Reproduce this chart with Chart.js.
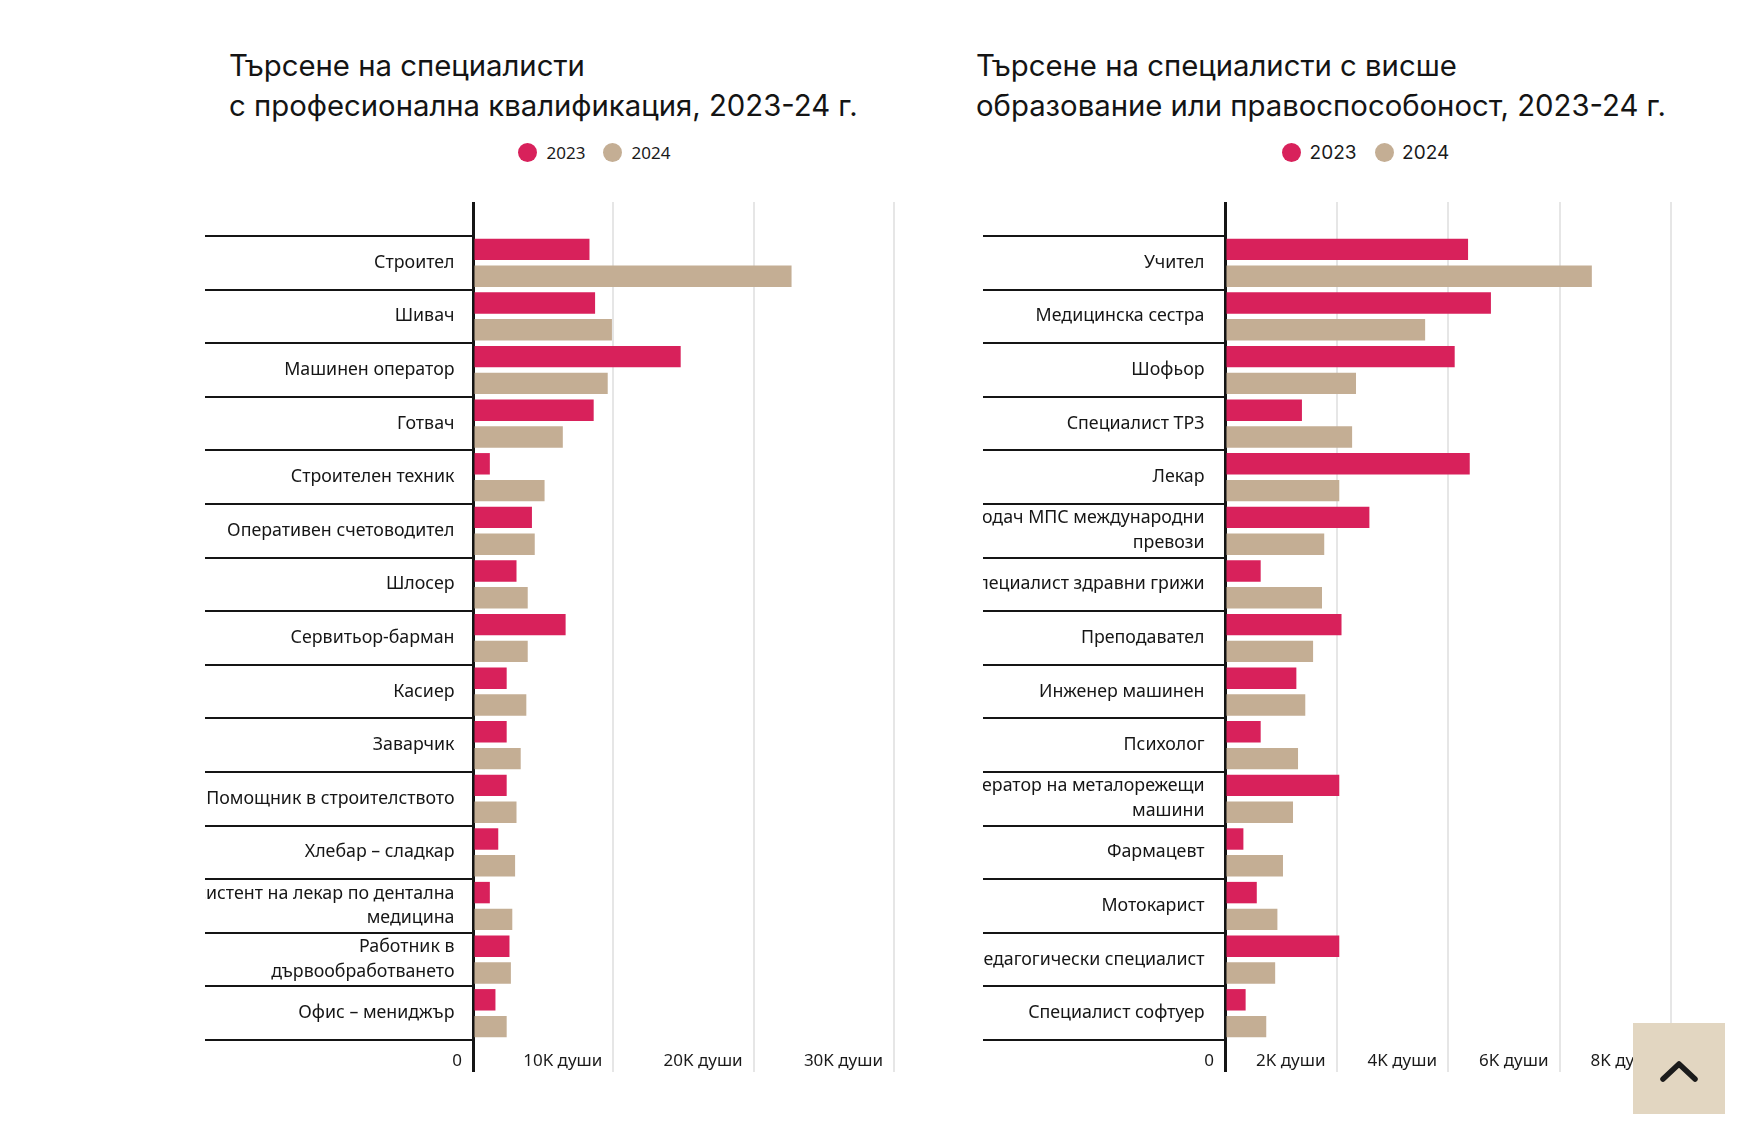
<!DOCTYPE html>
<html>
<head>
<meta charset="utf-8">
<script src="https://cdn.jsdelivr.net/npm/chart.js@4.4.1/dist/chart.umd.min.js"></script>
<style>
  html, body { margin: 0; padding: 0; background: #ffffff; width: 1760px; height: 1121px; overflow: hidden; }
  .title { position: absolute; font-family: Inter, "Noto Sans", sans-serif; font-size: 29.3px; line-height: 40px; color: #141414; white-space: nowrap; letter-spacing: 0; }
  .legend { position: absolute; display: flex; align-items: center; height: 19px; color: #1a1a1a; white-space: nowrap; }
  .legend .dot { width: 19px; height: 19px; border-radius: 50%; display: inline-block; }
  .chartbox { position: absolute; }
  #totop { position: absolute; left: 1633px; top: 1023px; width: 92px; height: 91px; background: #e2d6c1; }
</style>
</head>
<body>
<div class="title" style="left:229px; top:46px;">Търсене на специалисти<br>с професионална квалификация, 2023-24 г.</div>
<div class="title" style="left:976px; top:46px;">Търсене на специалисти с висше<br>образование или правоспособоност, 2023-24 г.</div>

<div class="legend" id="legLeft" style="left:518px; top:143px; font-family:'Noto Sans', sans-serif; font-size:17px;"></div>
<div class="legend" id="legRight" style="left:1282px; top:143px; font-family:Inter, sans-serif; font-size:19px;"></div>

<div class="chartbox" style="left:205px; top:202px;"><canvas id="c1" width="691" height="874"></canvas></div>
<div class="chartbox" style="left:983px; top:202px;"><canvas id="c2" width="690" height="874"></canvas></div>

<div id="totop">
  <svg width="92" height="91" viewBox="0 0 92 91">
    <polyline points="30,56 46,41 62,56" fill="none" stroke="#1b1b1b" stroke-width="5.5" stroke-linecap="round" stroke-linejoin="round"/>
  </svg>
</div>

<script>
// ---------- data ----------
const seriesNames = ['2023', '2024'];
const seriesColors = ['#d8215b', '#c4ae94'];

const leftCategories = [
  'Строител',
  'Шивач',
  'Машинен оператор',
  'Готвач',
  'Строителен техник',
  'Оперативен счетоводител',
  'Шлосер',
  'Сервитьор-барман',
  'Касиер',
  'Заварчик',
  'Помощник в строителството',
  'Хлебар – сладкар',
  ['Асистент на лекар по дентална', 'медицина'],
  ['Работник в', 'дървообработването'],
  'Офис – мениджър'
];
const left2023 = [8300, 8700, 14800, 8600, 1200, 4200, 3100, 6600, 2400, 2400, 2400, 1800, 1200, 2600, 1600];
const left2024 = [22700, 9900, 9600, 6400, 5100, 4400, 3900, 3900, 3800, 3400, 3100, 3000, 2800, 2700, 2400];
const leftTickLabels = ['0', '10K души', '20K души', '30K души'];

const rightCategories = [
  'Учител',
  'Медицинска сестра',
  'Шофьор',
  'Специалист ТРЗ',
  'Лекар',
  ['Водач МПС международни', 'превози'],
  'Специалист здравни грижи',
  'Преподавател',
  'Инженер машинен',
  'Психолог',
  ['Оператор на металорежещи', 'машини'],
  'Фармацевт',
  'Мотокарист',
  'Педагогически специалист',
  'Специалист софтуер'
];
const right2023 = [4360, 4770, 4120, 1380, 4390, 2590, 640, 2090, 1280, 640, 2050, 330, 570, 2050, 370];
const right2024 = [6580, 3590, 2350, 2280, 2050, 1780, 1740, 1580, 1440, 1310, 1220, 1040, 940, 900, 740];
const rightTickLabels = ['0', '2K души', '4K души', '6K души', '8K души'];

// ---------- legends ----------
function buildLegend(id, gapDot, gapItem) {
  const el = document.getElementById(id);
  seriesNames.forEach((name, i) => {
    const d = document.createElement('span');
    d.className = 'dot';
    d.style.background = seriesColors[i];
    d.style.marginRight = gapDot + 'px';
    const t = document.createElement('span');
    t.textContent = name;
    if (i < seriesNames.length - 1) t.style.marginRight = gapItem + 'px';
    el.appendChild(d); el.appendChild(t);
  });
}
buildLegend('legLeft', 9.6, 17.4);
buildLegend('legRight', 8.6, 18);

// ---------- charts ----------
const INK = '#151515';
const GRID = '#e6e6e6';
const tickFont = { family: '"Noto Sans", sans-serif', size: 17 };
const catFont = { family: '"Noto Sans", sans-serif', size: 17.8, lineHeight: 1.39 };

function gridColor(c) { return (c.tick && c.tick.value === 0) ? INK : GRID; }
function gridWidth(c) { return (c.tick && c.tick.value === 0) ? 3 : 2; }

function makeChart(canvasId, categories, d23, d24, max, step, tickLabels, yWidth, labelGap) {
  return new Chart(document.getElementById(canvasId), {
    type: 'bar',
    data: {
      labels: categories,
      datasets: [
        { label: seriesNames[0], data: d23, backgroundColor: seriesColors[0], categoryPercentage: 1, barPercentage: 0.8 },
        { label: seriesNames[1], data: d24, backgroundColor: seriesColors[1], categoryPercentage: 1, barPercentage: 0.8 }
      ]
    },
    options: {
      indexAxis: 'y',
      responsive: false,
      animation: false,
      devicePixelRatio: 1,
      layout: { padding: { left: 0, right: 2, top: 0, bottom: 0 } },
      plugins: { legend: { display: false }, tooltip: { enabled: false } },
      scales: {
        y: {
          type: 'category',
          z: 1,
          grid: { drawOnChartArea: false, drawTicks: true, tickLength: yWidth, color: INK, lineWidth: 2, offset: true },
          border: { display: true, color: INK, width: 3 },
          ticks: { autoSkip: false, padding: -(yWidth - labelGap), color: '#161616', font: catFont },
          afterFit: (s) => { s.width = yWidth; }
        },
        x: {
          type: 'linear',
          position: 'bottom',
          min: 0, max: max,
          grid: { color: gridColor, lineWidth: gridWidth, tickLength: 32, drawTicks: true },
          border: { display: false },
          ticks: {
            stepSize: step, align: 'end', labelOffset: -11, padding: -21,
            color: '#1a1a1a', font: tickFont,
            callback: (v, i) => tickLabels[i]
          },
          afterFit: (s) => { s.height = 36; }
        },
        xTop: {
          type: 'linear',
          position: 'top',
          min: 0, max: max,
          grid: { drawOnChartArea: false, color: gridColor, lineWidth: gridWidth, tickLength: 34, drawTicks: true },
          border: { display: false },
          ticks: { stepSize: step, display: false },
          afterFit: (s) => { s.height = 34; }
        }
      }
    }
  });
}

makeChart('c1', leftCategories, left2023, left2024, 30000, 10000, leftTickLabels, 268, 18.5);
makeChart('c2', rightCategories, right2023, right2024, 8000, 2000, rightTickLabels, 242, 20.5);
</script>
</body>
</html>
